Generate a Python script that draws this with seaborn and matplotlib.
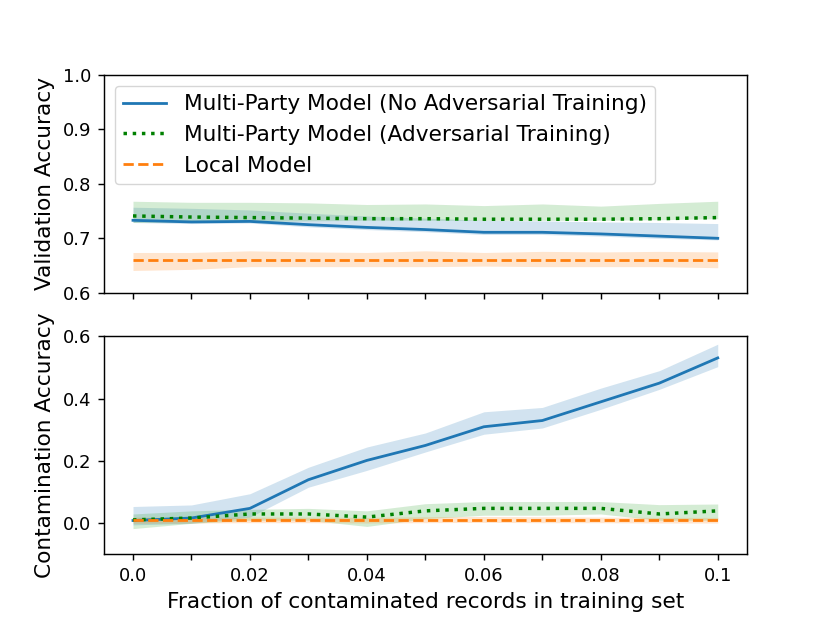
import matplotlib
matplotlib.use("Agg")
import matplotlib.pyplot as plt
import seaborn as sns

# ---- data ----
x = [0.0, 0.01, 0.02, 0.03, 0.04, 0.05, 0.06, 0.07, 0.08, 0.09, 0.1]
xtick_labels = ["0.0", "", "0.02", "", "0.04", "", "0.06", "", "0.08", "", "0.1"]

labels = ["Multi-Party Model (No Adversarial Training)",
          "Multi-Party Model (Adversarial Training)",
          "Local Model"]

# validation accuracy
val_no_adv = [0.733, 0.730, 0.731, 0.725, 0.720, 0.716, 0.711, 0.711, 0.708, 0.704, 0.700]
val_no_adv_lo = [0.729, 0.727, 0.728, 0.721, 0.716, 0.712, 0.707, 0.707, 0.704, 0.700, 0.697]
val_no_adv_hi = [0.757, 0.755, 0.752, 0.746, 0.741, 0.737, 0.733, 0.732, 0.730, 0.729, 0.727]

val_adv = [0.741, 0.739, 0.738, 0.737, 0.736, 0.736, 0.735, 0.735, 0.735, 0.736, 0.738]
val_adv_lo = [0.729, 0.730, 0.731, 0.732, 0.733, 0.733, 0.733, 0.733, 0.733, 0.734, 0.736]
val_adv_hi = [0.768, 0.766, 0.766, 0.765, 0.762, 0.763, 0.760, 0.763, 0.759, 0.764, 0.768]

val_local = [0.660, 0.660, 0.660, 0.660, 0.660, 0.660, 0.660, 0.660, 0.660, 0.660, 0.660]
val_local_lo = [0.641, 0.643, 0.648, 0.648, 0.648, 0.648, 0.649, 0.648, 0.648, 0.648, 0.646]
val_local_hi = [0.674, 0.674, 0.677, 0.675, 0.674, 0.677, 0.674, 0.676, 0.675, 0.676, 0.675]

# contamination accuracy
con_no_adv = [0.009, 0.017, 0.048, 0.140, 0.202, 0.250, 0.310, 0.330, 0.390, 0.450, 0.531]
con_no_adv_lo = [-0.005, 0.000, 0.020, 0.116, 0.170, 0.229, 0.286, 0.306, 0.366, 0.430, 0.503]
con_no_adv_hi = [0.054, 0.059, 0.095, 0.180, 0.245, 0.290, 0.358, 0.372, 0.434, 0.490, 0.575]

con_adv = [0.011, 0.017, 0.030, 0.030, 0.020, 0.040, 0.048, 0.048, 0.048, 0.030, 0.040]
con_adv_lo = [-0.017, 0.000, 0.010, 0.010, -0.010, 0.015, 0.026, 0.026, 0.030, 0.010, 0.010]
con_adv_hi = [0.030, 0.040, 0.045, 0.048, 0.040, 0.063, 0.070, 0.070, 0.070, 0.060, 0.062]

con_local = [0.010, 0.010, 0.010, 0.010, 0.010, 0.010, 0.010, 0.010, 0.010, 0.010, 0.010]
con_local_lo = [0.000, 0.001, 0.002, 0.002, 0.001, 0.002, 0.003, 0.002, 0.002, 0.001, 0.001]
con_local_hi = [0.020, 0.019, 0.020, 0.020, 0.019, 0.021, 0.022, 0.021, 0.020, 0.019, 0.019]

# ---- styles ----
line_colors = ["#1f77b4", "green", "#ff7f0e"]
band_colors = ["#1f77b4", "#2ca02c", "#ff7f0e"]
line_styles = ["-", ":", "--"]
line_widths = [2.0, 2.5, 2.0]

S = 1.297  # scale of the original rendering
plt.rcParams["font.family"] = ["DejaVu Sans"]
plt.rcParams["axes.linewidth"] = 0.8 * S
plt.rcParams["xtick.major.width"] = 0.8 * S
plt.rcParams["ytick.major.width"] = 0.8 * S
plt.rcParams["xtick.major.size"] = 3.5 * S
plt.rcParams["ytick.major.size"] = 3.5 * S
plt.rcParams["xtick.major.pad"] = 3.5 * S
plt.rcParams["ytick.major.pad"] = 3.5 * S
plt.rcParams["axes.labelpad"] = 4.0 * S

fig, axes = plt.subplots(2, 1, figsize=(8.3, 6.23), dpi=100, sharex=True)

panels = [
    (axes[0], [(val_no_adv, val_no_adv_lo, val_no_adv_hi),
               (val_adv, val_adv_lo, val_adv_hi),
               (val_local, val_local_lo, val_local_hi)]),
    (axes[1], [(con_no_adv, con_no_adv_lo, con_no_adv_hi),
               (con_adv, con_adv_lo, con_adv_hi),
               (con_local, con_local_lo, con_local_hi)]),
]

for ax, series in panels:
    for i, (y, lo, hi) in enumerate(series):
        ax.fill_between(x, lo, hi, color=band_colors[i], alpha=0.2, linewidth=0)
        sns.lineplot(x=x, y=y, ax=ax, color=line_colors[i], linestyle=line_styles[i],
                     linewidth=line_widths[i], label=labels[i], legend=False)

axes[0].set_ylim(0.6, 1.0)
axes[0].set_yticks([0.6, 0.7, 0.8, 0.9, 1.0])
axes[0].set_yticklabels(["0.6", "0.7", "0.8", "0.9", "1.0"])
axes[1].set_ylim(-0.1, 0.6)
axes[1].set_yticks([0.0, 0.2, 0.4, 0.6])
axes[1].set_yticklabels(["0.0", "0.2", "0.4", "0.6"])

axes[1].set_xticks(x)
axes[1].set_xticklabels(xtick_labels)

axes[0].set_ylabel("Validation Accuracy", fontsize=12 * S)
axes[1].set_ylabel("Contamination Accuracy", fontsize=12 * S)
axes[1].set_xlabel("Fraction of contaminated records in training set", fontsize=12 * S)
axes[0].set_xlabel("")

for ax in axes:
    ax.tick_params(labelsize=10 * S)

axes[0].legend(loc="upper left", fontsize=12 * S)

fig.savefig("out.png", dpi=100)
